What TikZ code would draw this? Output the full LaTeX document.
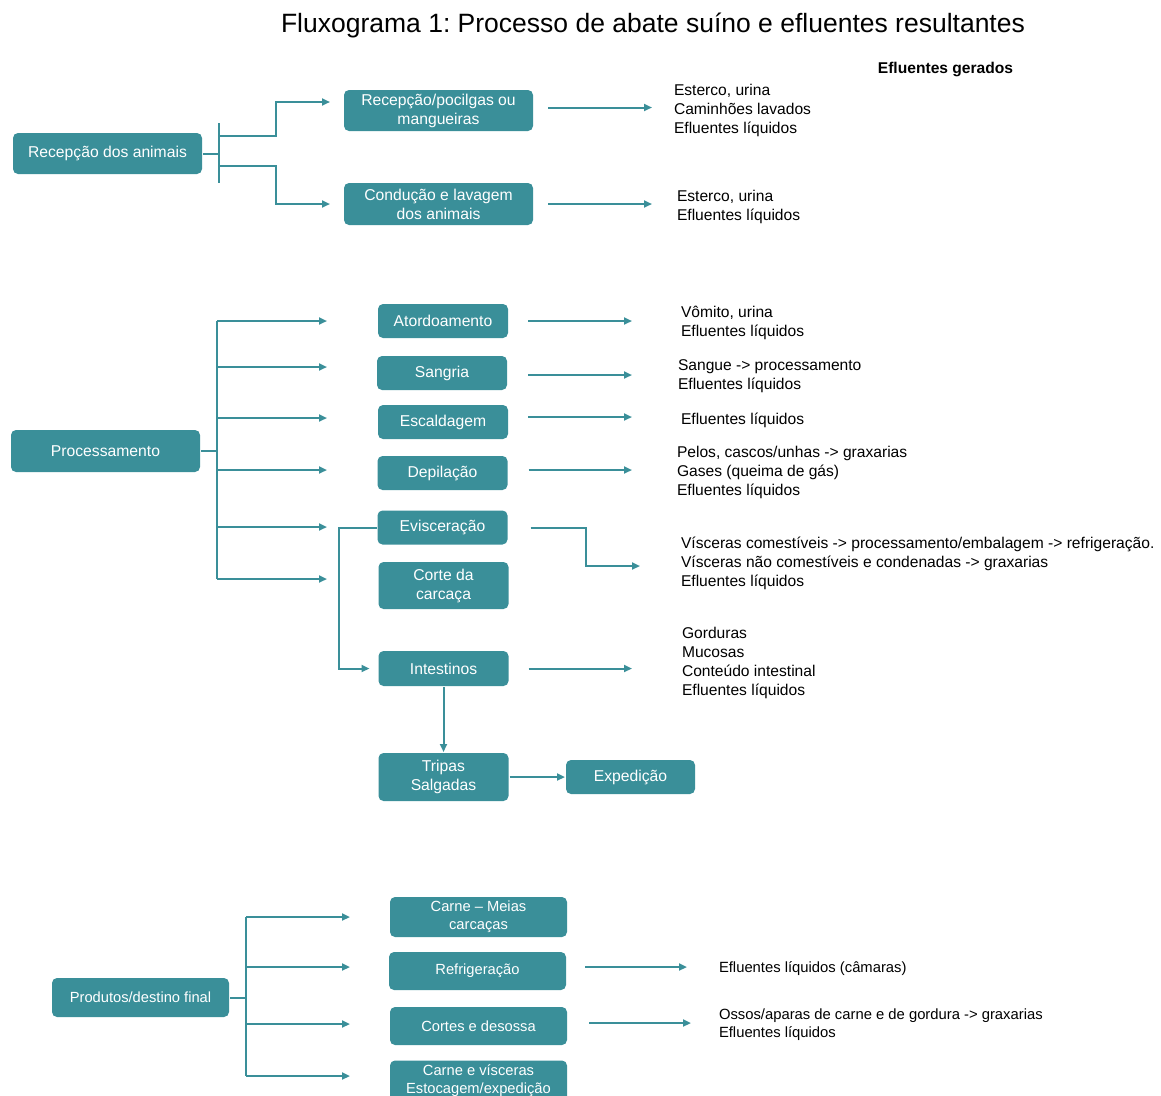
\documentclass[tikz,border=0pt]{standalone}
\usepackage{fontspec}
\setmainfont{Liberation Sans}
\usetikzlibrary{arrows.meta}
\definecolor{boxteal}{RGB}{58,143,153}
\frenchspacing

\begin{document}
\begin{tikzpicture}[x=1pt, y=-1pt, line width=2pt,
      etapa/.style = {rounded corners=5pt, fill=boxteal, text=white, align=center, inner sep=0pt, font=\fontsize{15.7}{19}\selectfont},
      efluente/.style = {anchor=west, align=left, inner sep=0pt, font=\fontsize{15.6}{19}\selectfont},
      seta/.style = {draw=boxteal, -{Triangle[length=8pt,width=7pt]}},
      linha/.style = {draw=boxteal}]

  \useasboundingbox (0,0) rectangle (1161,1095);

  % Title
  \node[font=\fontsize{26.5}{30}\selectfont] (titulo) at (653,25) {Fluxograma 1: Processo de abate suíno e efluentes resultantes};
  \node[font=\bfseries\fontsize{15.6}{18}\selectfont] (gerados) at (945.5,69) {Efluentes gerados};

  % Recepção dos animais
  \node[etapa, minimum width=189, minimum height=41] (recepcao) at (107.5,153.5) {Recepção dos animais};
  \node[etapa, minimum width=189, minimum height=41] (pocilgas) at (438.5,110.5) {Recepção/pocilgas ou\\mangueiras};
  \node[etapa, minimum width=189, minimum height=42] (conducao) at (438.5,204) {Condução e lavagem\\dos animais};
  \node[efluente] (ef-pocilgas) at (673,110) {Esterco, urina\\Caminhões lavados\\Efluentes líquidos};
  \node[efluente] (ef-conducao) at (676,206.5) {Esterco, urina\\Efluentes líquidos};

  \coordinate (r-top) at (219,123);
  \coordinate (r-bot) at (219,183);
  \coordinate (r-1) at (219,136);
  \coordinate (r-2) at (219,166);
  \coordinate (pocilgas-in) at (330,102);
  \coordinate (conducao-in) at (330,204);
  \draw[linha] (recepcao.east) -- (recepcao.east -| r-top);
  \draw[linha] (r-top) -- (r-bot);
  \draw[seta] (r-1) -- ++(57,0) |- (pocilgas-in);
  \draw[seta] (r-2) -- ++(57,0) |- (conducao-in);
  \draw[seta, shorten <=14pt, shorten >=21pt] ([yshift=3]pocilgas.east) -- ([yshift=3]pocilgas.east -| ef-pocilgas.west);
  \draw[seta, shorten <=14pt, shorten >=24pt] (conducao.east) -- (conducao.east -| ef-conducao.west);

  % Processamento
  \node[etapa, minimum width=189, minimum height=42] (processamento) at (105.5,451) {Processamento};
  \node[etapa, minimum width=130, minimum height=34] (atord) at (443,321) {Atordoamento};
  \node[etapa, minimum width=130, minimum height=34] (sangria) at (442,373) {Sangria};
  \node[etapa, minimum width=130, minimum height=34] (escald) at (443,422) {Escaldagem};
  \node[etapa, minimum width=130, minimum height=34] (depil) at (442.5,473) {Depilação};
  \node[etapa, minimum width=130, minimum height=34] (evisc) at (442.5,527.5) {Evisceração};
  \node[etapa, minimum width=130, minimum height=47] (corte) at (443.5,585.5) {Corte da\\carcaça};
  \node[etapa, minimum width=130, minimum height=35] (intest) at (443.5,668.5) {Intestinos};
  \node[etapa, minimum width=130, minimum height=48] (tripas) at (443.5,777) {Tripas\\Salgadas};
  \node[etapa, minimum width=129, minimum height=34] (expedicao) at (630.5,777) {Expedição};

  \node[efluente] (ef-atord) at (680,322.5) {Vômito, urina\\Efluentes líquidos};
  \node[efluente] (ef-sangria) at (677,376.5) {Sangue -> processamento\\Efluentes líquidos};
  \node[efluente] (ef-escald) at (680,420) {Efluentes líquidos};
  \node[efluente] (ef-depil) at (676,472) {Pelos, cascos/unhas -> graxarias\\Gases (queima de gás)\\Efluentes líquidos};
  \node[efluente] (ef-evisc) at (680,563) {Vísceras comestíveis -> processamento/embalagem -> refrigeração.\\Vísceras não comestíveis e condenadas -> graxarias\\Efluentes líquidos};
  \node[efluente] (ef-intest) at (681,662.5) {Gorduras\\Mucosas\\Conteúdo intestinal\\Efluentes líquidos};

  \coordinate (p-top) at (217,321);
  \coordinate (p-bot) at (217,579);
  \draw[linha] (processamento.east) -- (processamento.east -| p-top);
  \draw[linha] (p-top) -- (p-bot);
  \foreach \y [count=\i] in {321,367,418,470,527,579} {
    \coordinate (pb-\i) at (217,\y);
    \coordinate (pe-\i) at (327,\y);
    \draw[seta] (pb-\i) -- (pe-\i);
  }
  \draw[seta, shorten <=19pt, shorten >=48pt] (atord.east) -- (atord.east -| ef-atord.west);
  \draw[seta, shorten <=20pt, shorten >=45pt] ([yshift=-2]sangria.east) -- ([yshift=-2]sangria.east -| ef-sangria.west);
  \draw[seta, shorten <=19pt, shorten >=48pt] ([yshift=5]escald.east) -- ([yshift=5]escald.east -| ef-escald.west);
  \draw[seta, shorten <=20pt, shorten >=44pt] ([yshift=3]depil.east) -- ([yshift=3]depil.east -| ef-depil.west);
  \coordinate (ev-out) at (640,566);
  \draw[seta, shorten <=22pt] (evisc.east) -- ++(77.5,0) |- (ev-out);
  \draw[seta, shorten <=19pt, shorten >=49pt] (intest.east) -- (intest.east -| ef-intest.west);
  \draw[seta] (evisc.west) -- ++(-38,0) |- ([xshift=-8]intest.west);
  \draw[seta] (intest.south) -- (tripas.north);
  \draw[seta] (tripas.east) -- (expedicao.west);

  % Produtos/destino final
  \node[etapa, font=\fontsize{14.7}{18}\selectfont, minimum width=177, minimum height=39] (produtos) at (140.5,997.5) {Produtos/destino final};
  \node[etapa, font=\fontsize{14.7}{18}\selectfont, minimum width=177, minimum height=40] (meias) at (478.5,917) {Carne – Meias\\carcaças};
  \node[etapa, font=\fontsize{14.7}{18}\selectfont, minimum width=177, minimum height=38] (refrig) at (477.5,971) {Refrigeração};
  \node[etapa, font=\fontsize{14.7}{18}\selectfont, minimum width=177, minimum height=38] (cortes) at (478.5,1026) {Cortes e desossa};
  \node[etapa, font=\fontsize{14.7}{18}\selectfont, minimum width=177, minimum height=41] (estoc) at (478.5,1081) {Carne e vísceras\\Estocagem/expedição};
  \node[efluente, font=\fontsize{14.8}{18}\selectfont] (ef-refrig) at (718,968.5) {Efluentes líquidos (câmaras)};
  \node[efluente, font=\fontsize{14.8}{18}\selectfont] (ef-cortes) at (718,1024.5) {Ossos/aparas de carne e de gordura -> graxarias\\Efluentes líquidos};

  \coordinate (d-top) at (246,917);
  \coordinate (d-bot) at (246,1076);
  \draw[linha] (produtos.east) -- (produtos.east -| d-top);
  \draw[linha] (d-top) -- (d-bot);
  \foreach \y [count=\i] in {917,967,1024,1076} {
    \coordinate (db-\i) at (246,\y);
    \coordinate (de-\i) at (350,\y);
    \draw[seta] (db-\i) -- (de-\i);
  }
  \draw[seta, shorten <=18pt, shorten >=31pt] ([yshift=4]refrig.east) -- ([yshift=4]refrig.east -| ef-refrig.west);
  \draw[seta, shorten <=21pt, shorten >=27pt] ([yshift=3]cortes.east) -- ([yshift=3]cortes.east -| ef-cortes.west);

\end{tikzpicture}
\end{document}
